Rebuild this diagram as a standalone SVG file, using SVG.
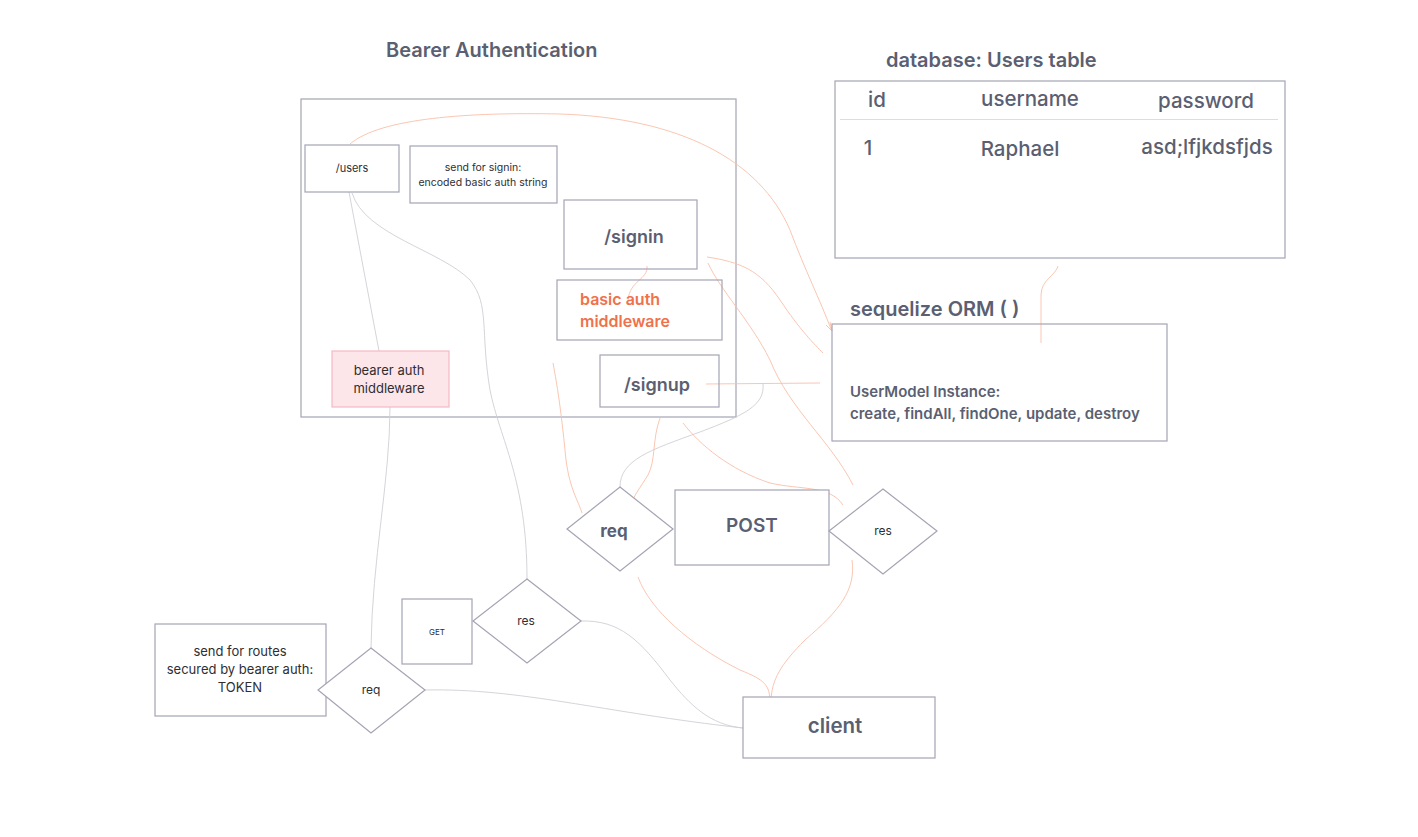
<svg xmlns="http://www.w3.org/2000/svg" width="1418" height="837" viewBox="0 0 1418 837">
<defs>
<style>
.box{fill:#ffffff;stroke:#a4a4b4;stroke-width:1.2}
.frame{fill:none;stroke:#a4a4b4;stroke-width:1.2}
.pink{fill:#fde6ea;stroke:#f6b8c3;stroke-width:1.2}
.g{fill:none;stroke:#cfcfd6;stroke-width:0.9}
.o{fill:none;stroke:#f9bfa9;stroke-width:0.9}
.t{font-family:Inter,"Noto Sans",sans-serif;fill:#5b5f72}
.h{font-size:20px;font-weight:600}
.m{font-size:20.5px;font-weight:500}
.s{font-family:Inter,"Noto Sans",sans-serif;fill:#2e2e33;font-weight:400}
.or{font-family:Inter,"Noto Sans",sans-serif;fill:#f0714a;font-size:16px;font-weight:600}
</style>
</defs>
<rect width="1418" height="837" fill="#ffffff"/>

<text class="t h" x="386" y="57">Bearer Authentication</text>

<g id="container"><rect class="frame" x="301" y="99" width="435" height="318"/></g>

<g id="connectors">
<path class="g" d="M349,192 L379,351"/>
<path class="g" d="M352,193 C365,235 440,250 470,280 C490,305 480,330 490,390 C500,440 527,480 527,579"/>
<path class="g" d="M390,407 C390,480 372,560 371,648"/>
<path class="g" d="M425,690 C520,688 600,712 743,728"/>
<path class="g" d="M581,621 C620,620 640,640 670,680 C690,705 710,725 743,728"/>
<path class="g" d="M763,384 C765,405 745,415 700,432 C650,450 620,460 620,487"/>
<path class="o" d="M350,144 C380,118 470,112 560,114 C680,118 760,160 790,230 C805,270 820,300 831,329"/>
<path class="o" d="M826,325 L832,331 L830,322"/>
<path class="o" d="M647,266 C648,280 630,280 628,300"/>
<path class="o" d="M707,257 C740,262 760,270 780,300 C800,330 815,345 823,353"/>
<path class="o" d="M708,263 C720,290 750,320 770,360 C790,410 830,440 853,485"/>
<path class="o" d="M706,384 L820,383"/>
<path class="o" d="M1041,343 L1041,295 C1041,280 1056,275 1058,266"/>
<path class="o" d="M553,363 C560,400 563,430 566,460 C570,490 578,500 582,513"/>
<path class="o" d="M660,418 C652,440 656,460 648,475 C640,488 634,495 632,503"/>
<path class="o" d="M683,423 C700,445 730,470 770,483 C800,490 830,485 843,505"/>
<path class="o" d="M638,577 C650,610 690,645 740,670 C765,680 770,685 770,703"/>
<path class="o" d="M852,560 C856,590 840,610 805,640 C780,665 772,680 771,700"/>
</g>

<g id="users"><rect class="frame" x="305" y="145" width="94" height="47"/>
<text class="s" x="352" y="172" font-size="11" text-anchor="middle">/users</text></g>

<g id="send-signin"><rect class="frame" x="410" y="146" width="147" height="57"/>
<text class="s" x="483" y="171" font-size="10.5" text-anchor="middle">send for signin:</text>
<text class="s" x="483" y="186" font-size="10.5" text-anchor="middle">encoded basic auth string</text></g>

<g id="signin"><rect class="frame" x="564" y="200" width="133" height="69"/>
<text class="t h" x="634" y="243" text-anchor="middle" style="font-size:18px">/signin</text></g>

<g id="basic-auth"><rect class="frame" x="557" y="280" width="165" height="60"/>
<text class="or" x="580" y="305">basic auth</text>
<text class="or" x="580" y="327">middleware</text></g>

<g id="bearer-auth"><rect class="pink" x="332" y="351" width="117" height="56"/>
<text class="s" x="389" y="375" font-size="13" text-anchor="middle">bearer auth</text>
<text class="s" x="389" y="393" font-size="13" text-anchor="middle">middleware</text></g>

<g id="signup"><rect class="frame" x="600" y="355" width="119" height="52"/>
<text class="t h" x="657" y="391" text-anchor="middle" style="font-size:18px">/signup</text></g>

<g id="users-table">
<text class="t h" x="886" y="67">database: Users table</text>
<rect class="box" x="835" y="81" width="450" height="177"/>
<line x1="840" y1="119.5" x2="1278" y2="119.5" stroke="#dcdce2" stroke-width="1"/>
<text class="t m" x="877" y="107" text-anchor="middle">id</text>
<text class="t m" x="1030" y="106" text-anchor="middle">username</text>
<text class="t m" x="1206" y="108" text-anchor="middle">password</text>
<text class="t m" x="868" y="155" text-anchor="middle">1</text>
<text class="t m" x="1020" y="156" text-anchor="middle">Raphael</text>
<text class="t m" x="1207" y="154" text-anchor="middle">asd;lfjkdsfjds</text>
</g>

<g id="orm">
<text class="t h" x="850" y="316">sequelize ORM ( )</text>
<rect class="frame" x="832" y="324" width="335" height="117"/>
<text class="t" x="850" y="397" font-size="15" font-weight="600">UserModel Instance:</text>
<text class="t" x="850" y="419" font-size="15" font-weight="600">create, findAll, findOne, update, destroy</text>
</g>

<g id="req-post"><polygon class="box" points="620,487 673,529 620,571 567,529"/>
<text class="t" x="614" y="537" font-size="17" font-weight="700" text-anchor="middle">req</text></g>

<g id="post"><rect class="box" x="675" y="490" width="154" height="75"/>
<text class="t" x="752" y="532" font-size="19" font-weight="600" text-anchor="middle">POST</text></g>

<g id="res-post"><polygon class="box" points="883,489 937,531 883,574 829,531"/>
<text class="s" x="883" y="535" font-size="12" text-anchor="middle">res</text></g>

<g id="get"><rect class="box" x="402" y="599" width="70" height="65"/>
<text class="s" x="437" y="635" font-size="8" text-anchor="middle">GET</text></g>

<g id="res-get"><polygon class="box" points="527,579 581,621 527,663 473,621"/>
<text class="s" x="526" y="625" font-size="12" text-anchor="middle">res</text></g>

<g id="send-routes"><rect class="box" x="155" y="624" width="171" height="92"/>
<text class="s" x="240" y="656" font-size="13" text-anchor="middle">send for routes</text>
<text class="s" x="240" y="674" font-size="13" text-anchor="middle">secured by bearer auth:</text>
<text class="s" x="240" y="692" font-size="13" text-anchor="middle">TOKEN</text></g>

<g id="req-bearer"><polygon class="box" points="371,648 425,690 371,733 318,690"/>
<text class="s" x="371" y="694" font-size="12" text-anchor="middle">req</text></g>

<g id="client"><rect class="box" x="743" y="697" width="192" height="61"/>
<text class="t" x="835" y="733" font-size="20.5" font-weight="600" text-anchor="middle">client</text></g>
</svg>
